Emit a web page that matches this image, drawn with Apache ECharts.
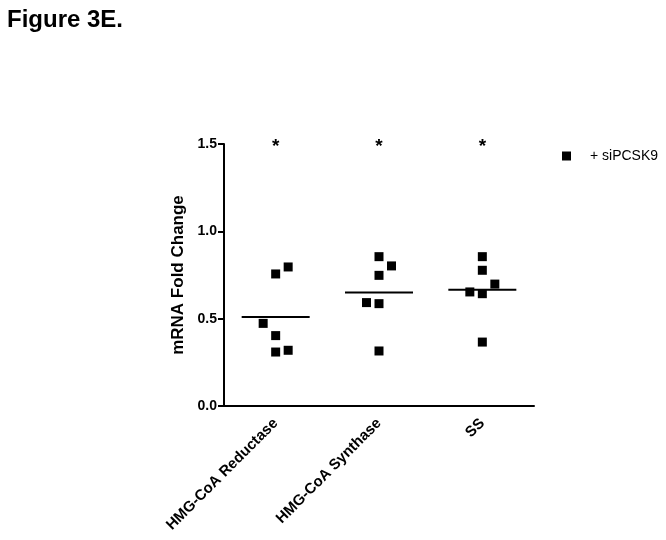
<!DOCTYPE html>
<html>
<head>
<meta charset="utf-8">
<script src="https://cdn.jsdelivr.net/npm/echarts@6/dist/echarts.min.js"></script>
<style>html,body{margin:0;padding:0;background:#fff}#c{width:666px;height:540px}</style>
</head>
<body>
<div id="c"></div>
<script>
// ---- data ----
var categories = ['HMG-CoA Reductase', 'HMG-CoA Synthase', 'SS'];
var reductase = [0.796, 0.756, 0.473, 0.403, 0.319, 0.309];
var synthase  = [0.855, 0.802, 0.748, 0.592, 0.586, 0.315];
var ss        = [0.855, 0.777, 0.698, 0.653, 0.643, 0.366];
// column slot of each point inside its group (-1 left, 0 centre, 1 right)
var reductaseSlots = [1, 0, -1, 0, 1, 0];
var synthaseSlots  = [0, 1, 0, -1, 0, 0];
var ssSlots        = [0, 0, 1, -1, 0, 0];
var significance = ['*', '*', '*'];
var yTicks = [0.0, 0.5, 1.0, 1.5];
var seriesName = '+ siPCSK9';

var groups = [reductase, synthase, ss];
var slots = [reductaseSlots, synthaseSlots, ssSlots];
var FONT = 'Liberation Sans, Arial, sans-serif';

var pts = [];
groups.forEach(function (g, i) {
  g.forEach(function (v, j) {
    pts.push({ value: [i, v], symbolOffset: [slots[i][j] * 12.5, 0] });
  });
});
var means = groups.map(function (g, i) {
  var s = 0; g.forEach(function (v) { s += v; });
  return [i, s / g.length];
});
var stars = significance.map(function (s, i) { return { value: [i, yTicks[yTicks.length - 1]], label: { formatter: s } }; });

var chart = echarts.init(document.getElementById('c'), null, { renderer: 'canvas' });
chart.setOption({
  animation: false,
  backgroundColor: '#fff',
  title: {
    text: 'Figure 3E.', left: 2, top: 3,
    textStyle: { fontFamily: FONT, fontWeight: 'bold', fontSize: 24, color: '#000' }
  },
  legend: {
    data: [{ name: seriesName, icon: 'rect', itemStyle: { color: '#000', opacity: 1 } }],
    left: 557, top: 144, itemWidth: 9, itemHeight: 9, itemGap: 8,
    textStyle: { fontFamily: FONT, fontSize: 14, color: '#000', padding: [0, 0, 0, 14] }
  },
  grid: { left: 224, right: 132, top: 144, bottom: 134 },
  xAxis: {
    type: 'category', data: categories, boundaryGap: true,
    axisLine: { lineStyle: { color: '#000', width: 2 } },
    axisTick: { show: false },
    axisLabel: {
      rotate: 45, interval: 0, margin: 15, color: '#000',
      fontFamily: FONT, fontWeight: 'bold', fontSize: 15
    },
    splitLine: { show: false }
  },
  yAxis: {
    type: 'value', min: 0, max: 1.5, interval: 0.5,
    name: 'mRNA Fold Change', nameLocation: 'middle', nameRotate: 90, nameGap: 37,
    nameTextStyle: { fontFamily: FONT, fontWeight: 'bold', fontSize: 17, color: '#000' },
    axisLine: { show: true, lineStyle: { color: '#000', width: 2 } },
    axisTick: { show: true, length: 6, lineStyle: { color: '#000', width: 2 } },
    axisLabel: {
      color: '#000', fontFamily: FONT, fontWeight: 'bold', fontSize: 14, margin: 7,
      formatter: function (v) { return v.toFixed(1); }
    },
    splitLine: { show: false }
  },
  series: [
    {
      name: seriesName, type: 'scatter', symbol: 'rect', symbolSize: 9,
      itemStyle: { color: '#000', opacity: 1 }, data: pts, z: 3
    },
    {
      name: 'mean', type: 'scatter', symbol: 'rect', symbolSize: [68, 2],
      itemStyle: { color: '#000', opacity: 1 }, data: means, z: 2, silent: true
    },
    {
      name: 'sig', type: 'scatter', symbolSize: 0, data: stars, silent: true,
      itemStyle: { opacity: 1 },
      label: {
        show: true, position: 'inside', offset: [0, 3], color: '#000',
        fontFamily: FONT, fontWeight: 'bold', fontSize: 19
      }
    }
  ]
});
</script>
</body>
</html>
